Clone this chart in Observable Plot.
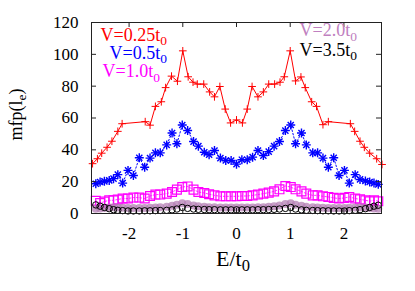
<!DOCTYPE html>
<html><head><meta charset="utf-8">
<script src="https://cdn.jsdelivr.net/npm/d3@7"></script>
<script src="https://cdn.jsdelivr.net/npm/@observablehq/plot@0.6"></script>
<style>body{margin:0;background:#fff} #chart{width:415px;height:291px}</style>
</head><body><div id="chart"></div>
<script>
// V = 0.25 t0 (red, solid line with plus markers)
const redE = [-2.68,-2.59,-2.51,-2.41,-2.32,-2.21,-2.13,-1.70,-1.61,-1.51,-1.40,-1.32,-1.21,-1.10,-1.00,-0.90,-0.81,-0.73,-0.61,-0.50,-0.41,-0.31,-0.21,-0.11,0.00,0.11,0.20,0.29,0.40,0.50,0.60,0.71,0.81,0.89,1.00,1.10,1.20,1.28,1.40,1.49,1.61,1.71,2.12,2.20,2.30,2.38,2.48,2.61,2.71];
const redMfp = [31.3,34.4,37.9,41.6,45.4,51.6,56.4,57.7,55.5,67.3,70.2,79.1,86.3,83.1,102.2,85.9,82.5,81.3,81.3,76.4,73.3,79.8,65.6,56.9,58.8,56.9,65.6,79.8,73.3,76.4,81.3,81.3,82.5,85.9,102.2,83.3,85.8,79.1,70.2,67.3,55.8,57.7,56.4,51.6,45.4,41.6,37.9,34.4,30.8];
// common energy grid for the other series
const gridE = [-2.62,-2.54,-2.46,-2.37,-2.29,-2.21,-2.12,-2.02,-1.92,-1.81,-1.71,-1.61,-1.51,-1.42,-1.30,-1.20,-1.11,-1.01,-0.91,-0.80,-0.71,-0.60,-0.51,-0.41,-0.30,-0.20,-0.10,0.00,0.10,0.20,0.30,0.40,0.50,0.60,0.70,0.80,0.91,1.01,1.10,1.21,1.30,1.42,1.51,1.61,1.71,1.81,1.91,2.01,2.10,2.21,2.30,2.40,2.48,2.56,2.64];
// V = 0.5 t0 (blue asterisks)
const blueMfp = [18.7,19.8,20.2,20.8,21.9,24.4,19.1,27.1,23.9,35.0,29.1,34.8,38.1,38.1,43.1,50.6,43.8,55.6,52.1,45.2,42.3,38.5,36.9,39.6,34.8,33.3,33.3,31.0,33.8,33.8,35.4,39.6,36.4,38.9,42.3,45.2,52.1,55.6,43.8,50.6,43.1,38.1,38.1,34.8,29.1,35.0,23.9,27.1,19.1,24.4,21.4,20.4,19.8,19.1,18.3];
// V = 1.0 t0 (magenta squares)
const pinkMfp = [8.0,6.5,7.5,8.3,8.3,8.8,9.4,9.4,10.0,10.0,9.4,11.0,11.9,11.9,12.5,13.5,15.0,16.6,17.0,15.0,13.5,12.9,12.1,11.4,10.8,10.8,10.8,10.8,11.0,11.0,11.4,11.9,12.5,13.1,13.9,15.2,17.3,16.6,15.2,13.9,12.5,11.4,11.4,10.8,10.4,9.8,9.4,9.8,10.4,9.4,8.9,8.3,7.7,8.3,7.7];
// V = 2.0 t0 (light purple)
const purpleMfp = [3.0,3.2,3.5,3.8,4.0,3.8,3.6,3.5,3.4,3.4,3.5,3.6,3.8,4.0,4.3,4.8,5.5,6.5,6.0,5.0,4.5,4.2,4.0,3.9,3.8,3.8,3.8,3.8,3.8,3.8,3.8,3.9,4.0,4.2,4.5,5.0,6.0,6.5,5.5,4.8,4.3,4.0,3.8,3.6,3.5,3.4,3.4,3.5,3.6,3.8,4.0,3.8,3.5,3.2,3.0];
// V = 3.5 t0 (black circles)
const blackMfp = [5.4,4.6,3.8,3.0,2.4,2.0,1.8,1.6,1.6,1.6,1.7,1.7,1.8,1.9,2.0,2.3,2.8,3.8,3.2,2.8,2.6,2.5,2.4,2.4,2.3,2.3,2.3,2.3,2.3,2.3,2.3,2.4,2.4,2.5,2.6,2.8,3.2,3.8,2.8,2.3,2.0,1.9,1.8,1.7,1.7,1.6,1.6,1.6,1.8,2.0,2.4,3.0,3.8,4.6,5.2];

const xTicks = [-2,-1,0,1,2];
const yTicks = [0,20,40,60,80,100,120];
const legendLabels = ["V=0.25t_0","V=0.5t_0","V=1.0t_0","V=2.0t_0","V=3.5t_0"];
const seriesColors = ["#ff0000","#0000ff","#ff00ff","#c080c0","#000000"];
const xLabel = "E/t_0";
const yLabel = "mfp(l_e)";

const rows = (xs, ys) => xs.map((x,i)=>({E:x, mfp:ys[i]}));
const red = rows(redE, redMfp);
const blue = rows(gridE, blueMfp);
const pink = rows(gridE, pinkMfp);
const purple = rows(gridE, purpleMfp);
const black = rows(gridE, blackMfp);

const serif = "Liberation Serif";
const legendPos = [[9,18],[18,36.3],[11,54.7],[208,13.7],[208,33]];

const chart = Plot.plot({
  width:415, height:291, marginLeft:91, marginRight:34, marginTop:22, marginBottom:78,
  style:{fontFamily:serif, fontSize:"17px", background:"#fff", color:"#000", overflow:"visible"},
  x:{domain:[-2.7,2.7], axis:null},
  y:{domain:[0,120], axis:null},
  marks:[
    Plot.line(red, {x:"E", y:"mfp", stroke:seriesColors[0], strokeWidth:1}),
    Plot.dot(red, {x:"E", y:"mfp", symbol:"plus", r:2.6, stroke:seriesColors[0], strokeWidth:1}),
    Plot.line(blue, {x:"E", y:"mfp", stroke:seriesColors[1], strokeWidth:1, strokeDasharray:"1.5,2"}),
    Plot.dot(blue, {x:"E", y:"mfp", symbol:"plus", r:3.0, stroke:seriesColors[1], strokeWidth:1.4}),
    Plot.dot(blue, {x:"E", y:"mfp", symbol:"times", r:2.9, stroke:seriesColors[1], strokeWidth:1.4}),
    Plot.line(pink, {x:"E", y:"mfp", stroke:seriesColors[2], strokeWidth:0.8, strokeDasharray:"1.5,2"}),
    Plot.dot(pink, {x:"E", y:"mfp", symbol:"square", r:5.0, fill:"none", stroke:seriesColors[2], strokeWidth:1.2}),
    Plot.dot(purple, {x:"E", y:"mfp", r:4, fill:"#b47fb4", fillOpacity:0.75, stroke:"none"}),
    Plot.dot(black, {x:"E", y:"mfp", r:3.2, fill:"none", stroke:seriesColors[4], strokeWidth:1}),
    Plot.frame({stroke:"#222", strokeWidth:1}),
    Plot.tickY(yTicks, {y:d=>d, stroke:"#222", insetRight:285}),
    Plot.tickY(yTicks, {y:d=>d, stroke:"#222", insetLeft:285}),
    Plot.tickX(xTicks, {x:d=>d, stroke:"#222", insetBottom:186}),
    Plot.tickX(xTicks, {x:d=>d, stroke:"#222", insetTop:186}),
    Plot.text(yTicks, {y:d=>d, text:d=>String(d), frameAnchor:"left", dx:-13, textAnchor:"end", lineAnchor:"middle", fontSize:17, fontFamily:serif, fill:"#000"}),
    Plot.text(xTicks, {x:d=>d, text:d=>String(d), frameAnchor:"bottom", dy:13, textAnchor:"middle", lineAnchor:"top", fontSize:17, fontFamily:serif, fill:"#000"}),
    ...legendLabels.map((t,i)=>Plot.text([t], {frameAnchor:"top-left", dx:legendPos[i][0], dy:legendPos[i][1], textAnchor:"start", lineAnchor:"bottom", fill:seriesColors[i], fontSize:18, fontFamily:serif})),
    Plot.text([yLabel], {frameAnchor:"left", dx:-70, dy:-3.5, rotate:-90, textAnchor:"middle", lineAnchor:"bottom", fontSize:18, fontFamily:serif, fill:"#000"}),
    Plot.text([xLabel], {frameAnchor:"bottom", dx:-3.5, dy:52, textAnchor:"middle", lineAnchor:"bottom", fontSize:22, fontFamily:serif, fill:"#000"})
  ]
});
document.getElementById("chart").appendChild(chart);

// subscripts: "a_b" -> a with subscript b
d3.select(chart).selectAll("text").each(function(){
  const t = this.textContent;
  if (!t.includes("_")) return;
  const fs = parseFloat(window.getComputedStyle(this).fontSize) || 18;
  const sub = fs*0.75, shift = fs*0.24;
  const parts = t.split(/_(\S)/);
  const sel = d3.select(this);
  sel.text(null);
  let prevSub = false;
  parts.forEach((p,i)=>{
    if (!p) { return; }
    const ts = sel.append("tspan").text(p);
    if (i%2===1) { ts.attr("font-size", sub).attr("dy", shift); prevSub = true; }
    else if (prevSub) { ts.attr("dy", -shift); prevSub = false; }
  });
});
</script>
</body></html>
